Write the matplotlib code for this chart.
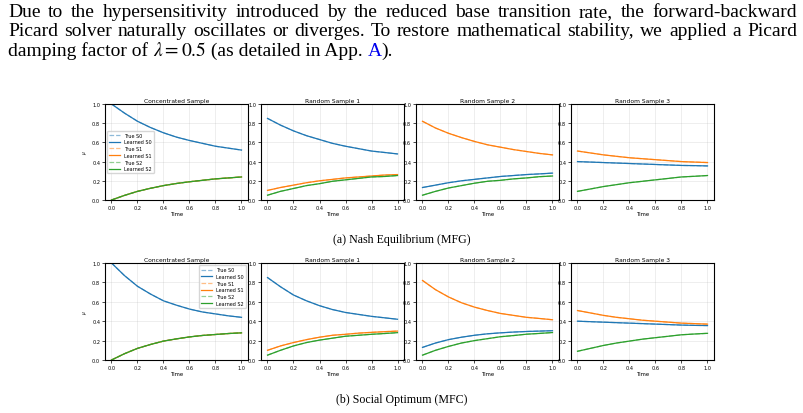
import matplotlib
matplotlib.use("Agg")
import matplotlib.pyplot as plt
import numpy as np

plt.rcParams['mathtext.fontset'] = 'stix'

# ---- data ----
t = [0.0, 0.1, 0.2, 0.3, 0.4, 0.5, 0.6, 0.7, 0.8, 0.9, 1.0]

titles = ["Concentrated Sample", "Random Sample 1", "Random Sample 2", "Random Sample 3"]

# Nash Equilibrium (MFG)
mfg_s0 = [
    [1.0, 0.905, 0.82, 0.755, 0.70, 0.655, 0.62, 0.59, 0.56, 0.54, 0.52],
    [0.85, 0.78, 0.72, 0.67, 0.63, 0.59, 0.56, 0.535, 0.51, 0.495, 0.48],
    [0.13, 0.155, 0.18, 0.20, 0.215, 0.23, 0.245, 0.255, 0.265, 0.272, 0.28],
    [0.40, 0.395, 0.39, 0.385, 0.38, 0.375, 0.37, 0.365, 0.36, 0.358, 0.355],
]
mfg_s1 = [
    [0.0, 0.048, 0.09, 0.122, 0.15, 0.172, 0.19, 0.205, 0.22, 0.23, 0.24],
    [0.10, 0.13, 0.155, 0.18, 0.20, 0.215, 0.23, 0.24, 0.25, 0.26, 0.265],
    [0.82, 0.75, 0.695, 0.65, 0.61, 0.575, 0.55, 0.525, 0.505, 0.485, 0.47],
    [0.51, 0.49, 0.47, 0.455, 0.44, 0.43, 0.42, 0.41, 0.40, 0.395, 0.39],
]
mfg_s2 = [
    [0.0, 0.048, 0.09, 0.122, 0.15, 0.172, 0.19, 0.205, 0.22, 0.23, 0.24],
    [0.05, 0.09, 0.12, 0.15, 0.17, 0.195, 0.21, 0.225, 0.24, 0.245, 0.255],
    [0.05, 0.09, 0.125, 0.15, 0.175, 0.195, 0.205, 0.22, 0.23, 0.243, 0.25],
    [0.09, 0.115, 0.14, 0.16, 0.18, 0.195, 0.21, 0.225, 0.24, 0.247, 0.255],
]

# Social Optimum (MFC)
mfc_s0 = [
    [1.0, 0.87, 0.76, 0.68, 0.61, 0.565, 0.525, 0.495, 0.475, 0.455, 0.44],
    [0.85, 0.755, 0.67, 0.61, 0.56, 0.52, 0.49, 0.47, 0.45, 0.435, 0.42],
    [0.13, 0.175, 0.21, 0.235, 0.255, 0.27, 0.28, 0.288, 0.294, 0.298, 0.302],
    [0.40, 0.395, 0.39, 0.385, 0.38, 0.375, 0.37, 0.365, 0.36, 0.357, 0.355],
]
mfc_s1 = [
    [0.0, 0.065, 0.12, 0.16, 0.195, 0.218, 0.238, 0.253, 0.263, 0.273, 0.28],
    [0.10, 0.145, 0.18, 0.21, 0.235, 0.255, 0.265, 0.277, 0.285, 0.292, 0.298],
    [0.82, 0.725, 0.65, 0.59, 0.545, 0.51, 0.48, 0.46, 0.44, 0.428, 0.415],
    [0.51, 0.485, 0.46, 0.44, 0.425, 0.41, 0.40, 0.39, 0.38, 0.375, 0.37],
]
mfc_s2 = [
    [0.0, 0.065, 0.12, 0.16, 0.195, 0.218, 0.238, 0.253, 0.263, 0.273, 0.28],
    [0.05, 0.10, 0.145, 0.18, 0.205, 0.225, 0.245, 0.255, 0.265, 0.273, 0.282],
    [0.05, 0.10, 0.14, 0.175, 0.20, 0.22, 0.24, 0.252, 0.266, 0.274, 0.283],
    [0.09, 0.12, 0.15, 0.175, 0.195, 0.215, 0.23, 0.245, 0.26, 0.268, 0.275],
]

para = [
    "Due to the hypersensitivity introduced by the reduced base transition rate, the forward-backward",
    "Picard solver naturally oscillates or diverges. To restore mathematical stability, we applied a Picard",
]
captions = ["(a) Nash Equilibrium (MFG)", "(b) Social Optimum (MFC)"]

# ---- layout ----
W, H = 804, 414
fig = plt.figure(figsize=(W / 100, H / 100), dpi=100)
r = fig.canvas.get_renderer()
SERIF = 'Liberation Serif'
FS = 14.0


def fx(x):
    return x / W


def fy(y):
    return 1 - y / H


def justify(line, y, x0, x1):
    words = line.split()
    objs = [fig.text(0, fy(y), w, fontsize=FS, family=SERIF, va='baseline') for w in words]
    widths = [o.get_window_extent(r).width for o in objs]
    gap = (x1 - x0 - sum(widths)) / (len(words) - 1)
    x = x0
    for o, wd in zip(objs, widths):
        o.set_x(fx(x))
        x += wd + gap


justify(para[0], 17, 8, 797)
justify(para[1], 36.5, 8, 797)

# last line, not justified
x = 8
for s, c in [("damping factor of ", 'black'), (r"$\lambda = 0.5$", 'black'),
             (" (as detailed in App. ", 'black'), ("A", '#0000ee'), (").", 'black')]:
    tt = fig.text(fx(x), fy(56), s, fontsize=FS, family=SERIF, va='baseline', color=c)
    x += tt.get_window_extent(r).width

colors = ['tab:blue', 'tab:orange', 'tab:green']
lefts = [105, 261, 416, 571]
aw = 143
rows = [(105, 201, mfg_s0, mfg_s1, mfg_s2, 'center left'),
        (264, 361, mfc_s0, mfc_s1, mfc_s2, 'upper right')]

for ri, (top, bot, s0, s1, s2, loc) in enumerate(rows):
    for ci in range(4):
        ax = fig.add_axes([fx(lefts[ci]), fy(bot), aw / W, (bot - top) / H])
        for k, series in enumerate([s0, s1, s2]):
            ax.plot(t, series[ci], '--', color=colors[k], alpha=0.5, lw=0.9, label=f"True S{k}")
            ax.plot(t, series[ci], '-', color=colors[k], lw=0.9, label=f"Learned S{k}")
        ax.set_ylim(0, 1)
        ax.set_xticks([0.0, 0.2, 0.4, 0.6, 0.8, 1.0])
        ax.set_yticks([0.0, 0.2, 0.4, 0.6, 0.8, 1.0])
        ax.tick_params(labelsize=3.6, length=2, width=0.5, pad=1.5)
        ax.grid(True, alpha=0.3, lw=0.5)
        for sp in ax.spines.values():
            sp.set_linewidth(0.8)
        ax.set_title(titles[ci], fontsize=4.3, pad=1.5)
        ax.set_xlabel("Time", fontsize=3.9, labelpad=1)
        if ci == 0:
            ax.set_ylabel(r"$\mu$", fontsize=4, labelpad=2)
            ax.legend(loc=loc, fontsize=3.5, frameon=True, borderpad=0.4,
                      labelspacing=0.35, handlelength=2.2)
    fig.text(0.5, fy(bot + 39), captions[ri], ha='center', va='center',
             fontsize=8.6, family=SERIF)

fig.savefig("out.png", dpi=100)
